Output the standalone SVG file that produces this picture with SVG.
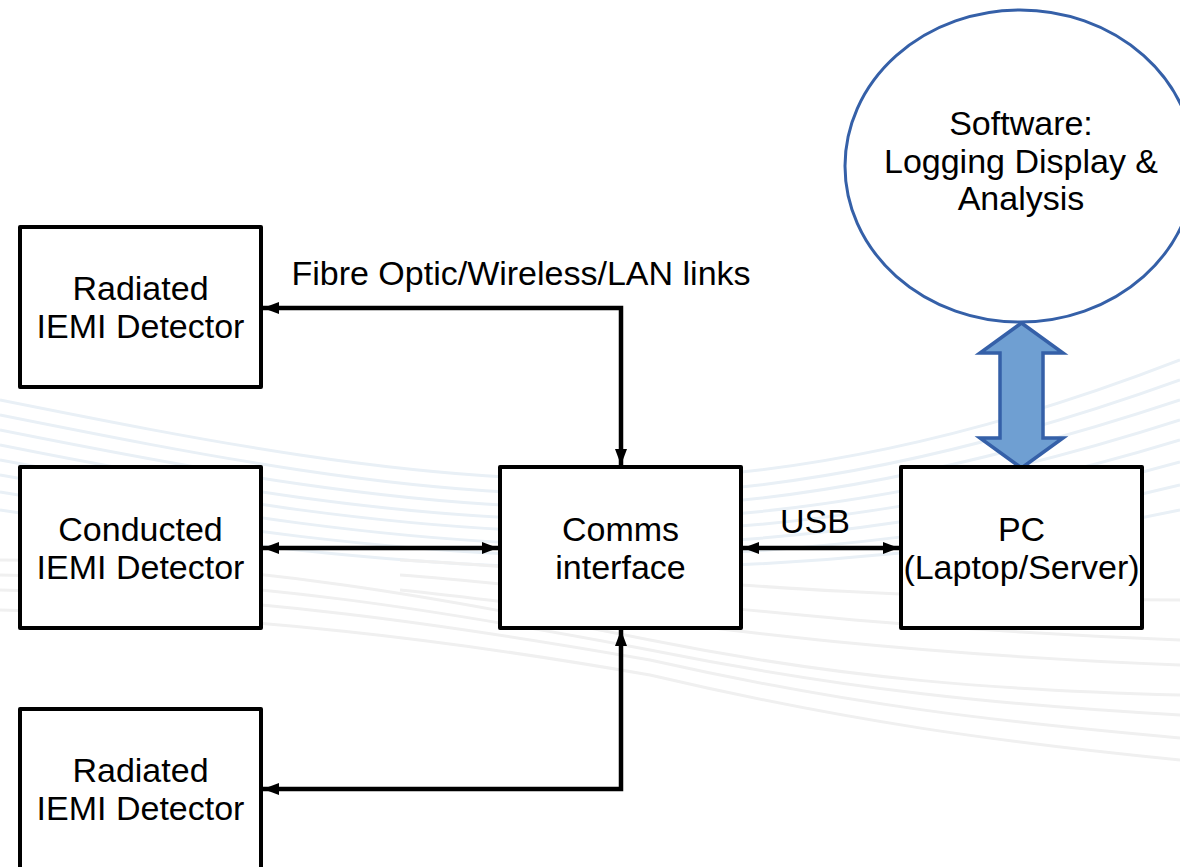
<svg xmlns="http://www.w3.org/2000/svg" width="1180" height="867" viewBox="0 0 1180 867">
<defs>
<style>
.box{fill:#ffffff;stroke:#000;stroke-width:4;stroke-linejoin:round}
.lbl{font-family:"Liberation Sans",Arial,sans-serif;font-size:34px;fill:#000;text-anchor:middle}
.con{fill:none;stroke:#000;stroke-width:4.5;stroke-linejoin:miter}
.bg1{fill:none;stroke:#e9f0f6;stroke-width:3}
.bg2{fill:none;stroke:#f0f0f0;stroke-width:3}
</style>
<marker id="ah" viewBox="0 0 16 12" refX="16" refY="6" markerWidth="16" markerHeight="12" markerUnits="userSpaceOnUse" orient="auto-start-reverse">
<path d="M0,0 L16,6 L0,12 z" fill="#000"/>
</marker>
</defs>
<rect width="1180" height="867" fill="#ffffff"/>
<g id="background">
<path class="bg1" d="M0,400 C200,440 400,480 600,480 C800,480 1000,430 1180,360"/>
<path class="bg1" d="M0,415 C200,455 400,495 600,495 C800,495 1000,445 1180,380"/>
<path class="bg1" d="M0,430 C200,470 400,508 600,508 C800,508 1000,460 1180,400"/>
<path class="bg1" d="M0,445 C200,485 400,520 600,520 C800,520 1000,478 1180,420"/>
<path class="bg1" d="M0,460 C200,497 400,532 600,532 C800,532 1000,495 1180,440"/>
<path class="bg1" d="M0,475 C200,510 400,545 600,545 C800,545 1000,512 1180,462"/>
<path class="bg1" d="M0,492 C200,525 400,556 600,556 C800,556 1000,530 1180,485"/>
<path class="bg1" d="M0,510 C200,540 400,568 600,568 C800,568 1000,548 1180,510"/>
<path class="bg2" d="M0,560 C250,560 450,600 650,640 C850,680 1000,690 1180,695"/>
<path class="bg2" d="M0,575 C250,578 450,612 650,650 C850,690 1000,705 1180,715"/>
<path class="bg2" d="M0,590 C250,595 450,625 650,660 C850,705 1000,722 1180,738"/>
<path class="bg2" d="M0,610 C250,615 450,640 650,675 C850,722 1000,742 1180,760"/>
<path class="bg2" d="M400,560 C600,570 800,600 1180,600"/>
<path class="bg2" d="M400,575 C600,590 800,625 1180,640"/>
<path class="bg2" d="M400,590 C600,610 800,650 1180,665"/>
</g>
<g id="connectors">
<polyline class="con" points="621,465 621,308 263,308" marker-start="url(#ah)" marker-end="url(#ah)"/>
<polyline class="con" points="621,630 621,789 263,789" marker-start="url(#ah)" marker-end="url(#ah)"/>
<line class="con" x1="263" y1="548" x2="498" y2="548" marker-start="url(#ah)" marker-end="url(#ah)"/>
<line class="con" x1="743" y1="548" x2="899" y2="548" marker-start="url(#ah)" marker-end="url(#ah)"/>
<path id="blockarrow" d="M1021.5,323 L1063,353 L1043,353 L1043,438 L1063,438 L1021.5,468 L980,438 L1000,438 L1000,353 L980,353 Z" fill="#6f9fd2" stroke="#3560a8" stroke-width="3.5" stroke-linejoin="miter"/>
<text class="lbl" x="521" y="285">Fibre Optic/Wireless/LAN links</text>
<text class="lbl" x="815" y="533">USB</text>
</g>
<g id="software">
<ellipse cx="1020" cy="166" rx="175" ry="156" fill="#ffffff" stroke="#3560a8" stroke-width="3"/>
<text class="lbl" x="1021" y="135">Software:</text>
<text class="lbl" x="1021" y="173">Logging Display &amp;</text>
<text class="lbl" x="1021" y="210">Analysis</text>
</g>
<g id="radiated1">
<rect class="box" x="20" y="227" width="241" height="160"/>
<text class="lbl" x="140.5" y="300">Radiated</text>
<text class="lbl" x="140.5" y="338">IEMI Detector</text>
</g>
<g id="conducted">
<rect class="box" x="20" y="467" width="241" height="161"/>
<text class="lbl" x="140.5" y="541">Conducted</text>
<text class="lbl" x="140.5" y="579">IEMI Detector</text>
</g>
<g id="radiated2">
<rect class="box" x="20" y="709" width="241" height="170"/>
<text class="lbl" x="140.5" y="782">Radiated</text>
<text class="lbl" x="140.5" y="820">IEMI Detector</text>
</g>
<g id="comms">
<rect class="box" x="500" y="467" width="241" height="161"/>
<text class="lbl" x="620.5" y="541">Comms</text>
<text class="lbl" x="620.5" y="579">interface</text>
</g>
<g id="pc">
<rect class="box" x="901" y="467" width="241" height="161"/>
<text class="lbl" x="1021.5" y="541">PC</text>
<text class="lbl" x="1021.5" y="579">(Laptop/Server)</text>
</g>
</svg>
